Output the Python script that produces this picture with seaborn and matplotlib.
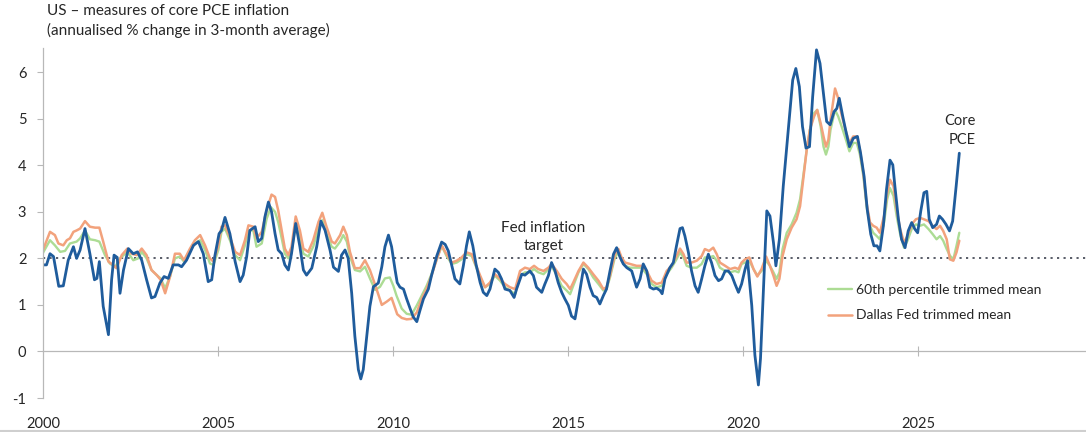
import numpy as np
import pandas as pd
import matplotlib.pyplot as plt
import seaborn as sns
from matplotlib.lines import Line2D

# ---- data (decimal year, annualised % change in 3-month average) ----
core_t = [2000.00, 2000.10, 2000.20, 2000.30, 2000.45, 2000.58, 2000.72, 2000.87, 2000.96, 2001.06,
          2001.20, 2001.34, 2001.47, 2001.54, 2001.61, 2001.72, 2001.87, 2001.96, 2002.03, 2002.12,
          2002.20, 2002.30, 2002.44, 2002.58, 2002.70, 2002.82, 2002.96, 2003.10, 2003.20, 2003.34,
          2003.46, 2003.58, 2003.72, 2003.87, 2003.96, 2004.10, 2004.30, 2004.44, 2004.58, 2004.72,
          2004.82, 2004.91, 2005.03, 2005.10, 2005.20, 2005.34, 2005.49, 2005.63, 2005.72, 2005.82,
          2005.91, 2006.06, 2006.15, 2006.25, 2006.34, 2006.44, 2006.53, 2006.63, 2006.72, 2006.82,
          2006.91, 2007.01, 2007.10, 2007.22, 2007.34, 2007.44, 2007.53, 2007.68, 2007.82, 2007.94,
          2008.06, 2008.20, 2008.30, 2008.44, 2008.53, 2008.63, 2008.72, 2008.82, 2008.91, 2009.01,
          2009.08, 2009.15, 2009.25, 2009.34, 2009.44, 2009.58, 2009.68, 2009.77, 2009.87, 2009.96,
          2010.06, 2010.12, 2010.20, 2010.30, 2010.39, 2010.49, 2010.58, 2010.68, 2010.77, 2010.87,
          2011.01, 2011.10, 2011.25, 2011.39, 2011.49, 2011.58, 2011.68, 2011.77, 2011.91, 2012.01,
          2012.10, 2012.18, 2012.28, 2012.37, 2012.49, 2012.58, 2012.68, 2012.77, 2012.91, 2013.01,
          2013.10, 2013.20, 2013.34, 2013.46, 2013.53, 2013.68, 2013.77, 2013.91, 2014.01, 2014.10,
          2014.25, 2014.34, 2014.44, 2014.53, 2014.63, 2014.72, 2014.82, 2014.91, 2015.01, 2015.10,
          2015.20, 2015.30, 2015.44, 2015.53, 2015.63, 2015.72, 2015.82, 2015.91, 2016.01, 2016.10,
          2016.20, 2016.30, 2016.39, 2016.49, 2016.58, 2016.68, 2016.82, 2016.96, 2017.06, 2017.15,
          2017.25, 2017.34, 2017.44, 2017.53, 2017.63, 2017.69, 2017.77, 2017.91, 2018.01, 2018.10,
          2018.20, 2018.27, 2018.34, 2018.44, 2018.53, 2018.63, 2018.72, 2018.82, 2018.91, 2019.01,
          2019.10, 2019.20, 2019.30, 2019.39, 2019.49, 2019.58, 2019.68, 2019.77, 2019.87, 2019.96,
          2020.06, 2020.13, 2020.25, 2020.34, 2020.44, 2020.50, 2020.58, 2020.68, 2020.77, 2020.87,
          2020.94, 2021.04, 2021.15, 2021.30, 2021.42, 2021.51, 2021.61, 2021.70, 2021.80, 2021.90,
          2021.99, 2022.10, 2022.20, 2022.30, 2022.39, 2022.49, 2022.60, 2022.68, 2022.75, 2022.85,
          2022.94, 2023.04, 2023.15, 2023.27, 2023.36, 2023.46, 2023.55, 2023.65, 2023.74, 2023.83,
          2023.91, 2024.01, 2024.10, 2024.20, 2024.28, 2024.34, 2024.44, 2024.53, 2024.63, 2024.72,
          2024.82, 2024.91, 2024.99, 2025.08, 2025.17, 2025.25, 2025.32, 2025.42, 2025.53, 2025.61,
          2025.70, 2025.80, 2025.90, 2025.99, 2026.09, 2026.18]
core_v = [1.86, 1.86, 2.10, 2.04, 1.40, 1.41, 1.96, 2.25, 2.00, 2.18,
          2.64, 2.10, 1.54, 1.57, 1.93, 0.97, 0.36, 1.54, 2.07, 2.02,
          1.25, 1.75, 2.21, 2.10, 2.14, 1.96, 1.54, 1.15, 1.18, 1.47,
          1.61, 1.57, 1.86, 1.86, 1.82, 1.96, 2.28, 2.36, 2.10, 1.50,
          1.54, 2.05, 2.53, 2.60, 2.88, 2.53, 1.93, 1.50, 1.64, 2.04,
          2.60, 2.68, 2.36, 2.43, 2.89, 3.21, 3.00, 2.53, 2.18, 2.10,
          1.86, 1.75, 2.10, 2.75, 2.25, 1.75, 1.64, 1.79, 2.25, 2.80,
          2.60, 2.18, 1.81, 1.72, 2.07, 2.18, 2.00, 1.25, 0.33, -0.39,
          -0.59, -0.39, 0.33, 0.97, 1.39, 1.47, 1.82, 2.25, 2.50, 2.25,
          1.75, 1.48, 1.38, 1.34, 1.13, 0.92, 0.74, 0.64, 0.88, 1.13,
          1.34, 1.63, 2.05, 2.35, 2.30, 2.16, 1.84, 1.56, 1.45, 1.84,
          2.27, 2.57, 2.27, 1.88, 1.48, 1.27, 1.20, 1.34, 1.77, 1.70,
          1.56, 1.34, 1.31, 1.16, 1.34, 1.66, 1.64, 1.73, 1.63, 1.38,
          1.27, 1.45, 1.63, 1.91, 1.73, 1.48, 1.27, 1.13, 0.99, 0.76,
          0.70, 1.13, 1.77, 1.66, 1.38, 1.20, 1.16, 1.02, 1.20, 1.34,
          1.73, 2.09, 2.23, 2.02, 1.88, 1.80, 1.73, 1.38, 1.56, 1.88,
          1.73, 1.38, 1.34, 1.36, 1.31, 1.24, 1.56, 1.80, 1.91, 2.27,
          2.64, 2.66, 2.48, 2.13, 1.73, 1.41, 1.27, 1.56, 1.84, 2.09,
          1.91, 1.63, 1.52, 1.56, 1.73, 1.73, 1.63, 1.45, 1.27, 1.45,
          1.77, 1.95, 0.99, -0.08, -0.72, -0.15, 1.27, 3.02, 2.91, 2.34,
          1.84, 2.41, 3.55, 4.83, 5.83, 6.08, 5.69, 4.83, 4.37, 4.40,
          5.47, 6.48, 6.19, 5.54, 4.94, 4.87, 5.15, 5.22, 5.44, 5.05,
          4.73, 4.40, 4.58, 4.62, 4.26, 3.76, 3.05, 2.52, 2.27, 2.27,
          2.16, 2.70, 3.48, 4.11, 4.01, 3.55, 2.84, 2.41, 2.23, 2.59,
          2.77, 2.63, 2.55, 3.02, 3.41, 3.44, 2.84, 2.66, 2.73, 2.91,
          2.84, 2.73, 2.59, 2.80, 3.55, 4.26]

dallas_t = [2000.00, 2000.20, 2000.34, 2000.44, 2000.58, 2000.68, 2000.77, 2000.87, 2000.96, 2001.06,
            2001.20, 2001.34, 2001.49, 2001.61, 2001.72, 2001.87, 2002.00, 2002.10, 2002.25, 2002.41,
            2002.53, 2002.68, 2002.82, 2002.96, 2003.10, 2003.25, 2003.36, 2003.49, 2003.63, 2003.77,
            2003.91, 2004.03, 2004.20, 2004.34, 2004.49, 2004.63, 2004.77, 2004.87, 2005.00, 2005.10,
            2005.20, 2005.34, 2005.49, 2005.63, 2005.77, 2005.87, 2006.01, 2006.10, 2006.25, 2006.39,
            2006.53, 2006.63, 2006.72, 2006.82, 2006.91, 2007.01, 2007.10, 2007.22, 2007.34, 2007.44,
            2007.58, 2007.72, 2007.87, 2007.98, 2008.10, 2008.25, 2008.34, 2008.49, 2008.58, 2008.68,
            2008.77, 2008.91, 2009.06, 2009.20, 2009.34, 2009.49, 2009.68, 2009.82, 2009.96, 2010.06,
            2010.12, 2010.25, 2010.39, 2010.53, 2010.68, 2010.82, 2010.96, 2011.10, 2011.25, 2011.39,
            2011.53, 2011.68, 2011.82, 2011.96, 2012.10, 2012.25, 2012.34, 2012.49, 2012.63, 2012.77,
            2012.91, 2013.06, 2013.20, 2013.34, 2013.49, 2013.63, 2013.77, 2013.91, 2014.03, 2014.15,
            2014.30, 2014.44, 2014.53, 2014.68, 2014.82, 2014.96, 2015.06, 2015.15, 2015.30, 2015.44,
            2015.58, 2015.72, 2015.87, 2016.01, 2016.10, 2016.20, 2016.34, 2016.44, 2016.53, 2016.63,
            2016.77, 2016.96, 2017.10, 2017.25, 2017.39, 2017.53, 2017.68, 2017.82, 2017.96, 2018.10,
            2018.20, 2018.30, 2018.39, 2018.53, 2018.68, 2018.82, 2018.91, 2019.03, 2019.15, 2019.25,
            2019.34, 2019.49, 2019.63, 2019.77, 2019.87, 2019.96, 2020.06, 2020.18, 2020.30, 2020.41,
            2020.53, 2020.66, 2020.77, 2020.87, 2020.96, 2021.04, 2021.13, 2021.25, 2021.39, 2021.53,
            2021.63, 2021.72, 2021.82, 2021.91, 2022.03, 2022.12, 2022.22, 2022.30, 2022.37, 2022.44,
            2022.50, 2022.63, 2022.72, 2022.82, 2022.94, 2023.04, 2023.15, 2023.25, 2023.34, 2023.44,
            2023.53, 2023.63, 2023.72, 2023.82, 2023.91, 2024.03, 2024.12, 2024.20, 2024.30, 2024.39,
            2024.49, 2024.60, 2024.70, 2024.82, 2024.94, 2025.06, 2025.17, 2025.30, 2025.42, 2025.53,
            2025.63, 2025.72, 2025.82, 2025.91, 2026.01, 2026.10, 2026.18]
dallas_v = [2.18, 2.57, 2.50, 2.32, 2.28, 2.39, 2.43, 2.57, 2.60, 2.64,
            2.80, 2.68, 2.66, 2.66, 2.36, 1.93, 1.86, 1.79, 2.07, 2.21,
            2.10, 2.07, 2.21, 2.07, 1.75, 1.64, 1.54, 1.25, 1.61, 2.10,
            2.10, 1.96, 2.21, 2.39, 2.50, 2.28, 2.00, 1.93, 2.25, 2.68,
            2.71, 2.46, 2.14, 2.07, 2.39, 2.71, 2.68, 2.43, 2.57, 3.03,
            3.37, 3.32, 3.03, 2.60, 2.21, 2.07, 2.25, 2.90, 2.60, 2.21,
            2.14, 2.39, 2.78, 2.98, 2.68, 2.36, 2.32, 2.50, 2.68, 2.50,
            2.14, 1.79, 1.79, 1.96, 1.75, 1.43, 1.00, 1.07, 1.15, 0.93,
            0.80, 0.72, 0.69, 0.70, 0.84, 1.13, 1.34, 1.63, 1.98, 2.28,
            2.09, 1.91, 1.95, 2.02, 2.13, 2.09, 1.91, 1.63, 1.38, 1.48,
            1.66, 1.56, 1.45, 1.38, 1.34, 1.73, 1.80, 1.77, 1.84, 1.77,
            1.73, 1.80, 1.88, 1.73, 1.56, 1.45, 1.34, 1.48, 1.73, 1.91,
            1.80, 1.66, 1.52, 1.34, 1.38, 1.63, 2.09, 2.20, 2.02, 1.91,
            1.88, 1.84, 1.84, 1.73, 1.52, 1.45, 1.48, 1.73, 1.84, 2.05,
            2.21, 2.09, 1.91, 1.91, 1.95, 2.05, 2.20, 2.16, 2.23, 2.09,
            1.91, 1.84, 1.77, 1.80, 1.77, 1.91, 1.98, 2.02, 1.77, 1.61,
            1.77, 2.04, 1.84, 1.63, 1.41, 1.56, 2.05, 2.41, 2.66, 2.84,
            3.12, 3.69, 4.33, 4.76, 5.05, 5.19, 4.90, 4.62, 4.40, 4.55,
            4.97, 5.65, 5.44, 5.08, 4.73, 4.48, 4.62, 4.62, 4.33, 3.83,
            3.19, 2.77, 2.70, 2.66, 2.55, 2.91, 3.41, 3.69, 3.55, 3.05,
            2.63, 2.34, 2.48, 2.73, 2.84, 2.87, 2.84, 2.80, 2.70, 2.63,
            2.70, 2.59, 2.41, 1.98, 1.95, 2.13, 2.38]

pct60_t = [2000.00, 2000.20, 2000.34, 2000.49, 2000.63, 2000.77, 2000.96, 2001.06, 2001.20, 2001.34,
           2001.49, 2001.61, 2001.77, 2001.91, 2002.06, 2002.20, 2002.41, 2002.58, 2002.72, 2002.82,
           2002.96, 2003.10, 2003.25, 2003.36, 2003.49, 2003.63, 2003.77, 2003.91, 2004.03, 2004.20,
           2004.34, 2004.49, 2004.63, 2004.77, 2004.87, 2005.01, 2005.10, 2005.20, 2005.34, 2005.49,
           2005.63, 2005.77, 2005.87, 2006.01, 2006.10, 2006.25, 2006.39, 2006.51, 2006.63, 2006.72,
           2006.82, 2006.91, 2007.01, 2007.10, 2007.22, 2007.34, 2007.44, 2007.58, 2007.72, 2007.87,
           2007.98, 2008.10, 2008.25, 2008.34, 2008.49, 2008.58, 2008.68, 2008.77, 2008.91, 2009.06,
           2009.20, 2009.34, 2009.49, 2009.63, 2009.77, 2009.91, 2010.01, 2010.10, 2010.25, 2010.39,
           2010.53, 2010.68, 2010.82, 2010.96, 2011.10, 2011.25, 2011.39, 2011.53, 2011.68, 2011.82,
           2011.96, 2012.10, 2012.25, 2012.34, 2012.49, 2012.63, 2012.77, 2012.91, 2013.06, 2013.20,
           2013.34, 2013.49, 2013.63, 2013.77, 2013.91, 2014.03, 2014.15, 2014.30, 2014.44, 2014.53,
           2014.68, 2014.82, 2014.96, 2015.06, 2015.15, 2015.30, 2015.44, 2015.58, 2015.72, 2015.87,
           2016.01, 2016.10, 2016.20, 2016.34, 2016.44, 2016.53, 2016.63, 2016.77, 2016.96, 2017.10,
           2017.25, 2017.39, 2017.53, 2017.68, 2017.82, 2017.96, 2018.10, 2018.20, 2018.30, 2018.39,
           2018.53, 2018.68, 2018.82, 2018.91, 2019.03, 2019.15, 2019.25, 2019.34, 2019.49, 2019.63,
           2019.77, 2019.87, 2019.96, 2020.06, 2020.18, 2020.30, 2020.41, 2020.53, 2020.66, 2020.77,
           2020.87, 2020.96, 2021.04, 2021.13, 2021.25, 2021.39, 2021.53, 2021.63, 2021.72, 2021.82,
           2021.91, 2022.03, 2022.12, 2022.22, 2022.30, 2022.37, 2022.44, 2022.50, 2022.63, 2022.72,
           2022.82, 2022.94, 2023.04, 2023.15, 2023.25, 2023.34, 2023.44, 2023.53, 2023.63, 2023.72,
           2023.82, 2023.91, 2024.03, 2024.12, 2024.20, 2024.30, 2024.39, 2024.49, 2024.60, 2024.70,
           2024.82, 2024.94, 2025.06, 2025.17, 2025.30, 2025.42, 2025.53, 2025.63, 2025.72, 2025.82,
           2025.91, 2026.01, 2026.10, 2026.18]
pct60_v = [2.12, 2.39, 2.28, 2.14, 2.16, 2.32, 2.36, 2.43, 2.60, 2.41,
           2.39, 2.36, 2.07, 1.89, 1.81, 2.00, 2.14, 1.96, 2.00, 2.14,
           2.00, 1.75, 1.64, 1.57, 1.36, 1.61, 2.00, 2.04, 1.93, 2.18,
           2.32, 2.39, 2.18, 1.89, 1.86, 2.18, 2.57, 2.64, 2.39, 2.07,
           1.96, 2.28, 2.60, 2.60, 2.25, 2.32, 2.85, 3.10, 3.00, 2.78,
           2.43, 2.10, 2.00, 2.14, 2.71, 2.46, 2.10, 2.04, 2.25, 2.64,
           2.82, 2.53, 2.25, 2.21, 2.36, 2.50, 2.36, 2.04, 1.75, 1.72,
           1.82, 1.57, 1.32, 1.39, 1.57, 1.59, 1.41, 1.20, 0.92, 0.81,
           0.79, 0.99, 1.20, 1.41, 1.66, 1.98, 2.27, 2.05, 1.88, 1.91,
           1.98, 2.09, 2.05, 1.88, 1.59, 1.38, 1.45, 1.63, 1.52, 1.38,
           1.31, 1.23, 1.63, 1.70, 1.70, 1.77, 1.70, 1.66, 1.77, 1.84,
           1.63, 1.41, 1.31, 1.23, 1.41, 1.70, 1.88, 1.77, 1.59, 1.45,
           1.31, 1.34, 1.59, 2.02, 2.13, 1.95, 1.84, 1.80, 1.80, 1.80,
           1.66, 1.45, 1.38, 1.41, 1.66, 1.80, 1.98, 2.13, 2.02, 1.84,
           1.80, 1.80, 1.88, 2.02, 2.02, 2.05, 1.95, 1.80, 1.73, 1.70,
           1.73, 1.70, 1.88, 1.91, 1.95, 1.77, 1.63, 1.73, 1.95, 1.84,
           1.70, 1.56, 1.70, 2.20, 2.55, 2.73, 2.98, 3.27, 3.76, 4.33,
           4.76, 5.12, 5.19, 4.83, 4.40, 4.23, 4.40, 4.76, 5.19, 5.05,
           4.83, 4.55, 4.30, 4.48, 4.48, 4.23, 3.76, 3.12, 2.70, 2.55,
           2.48, 2.41, 2.77, 3.27, 3.51, 3.34, 2.91, 2.52, 2.23, 2.38,
           2.63, 2.73, 2.70, 2.73, 2.63, 2.52, 2.41, 2.48, 2.38, 2.20,
           2.06, 1.98, 2.27, 2.55]

year_ticks = [2000, 2005, 2010, 2015, 2020, 2025]
y_ticks = [-1, 0, 1, 2, 3, 4, 5, 6]
fed_target = 2

BLUE = '#1f5c9c'
ORANGE = '#f2a27c'
GREEN = '#acdc94'
GRAY = '#b8b8b8'
TEXT = '#262626'

sns.set_theme(style='white')
plt.rcParams['font.family'] = ['Lato', 'DejaVu Sans']
plt.rcParams['axes.unicode_minus'] = False

core = pd.DataFrame({'date': core_t, 'value': core_v})
dallas = pd.DataFrame({'date': dallas_t, 'value': dallas_v})
pct60 = pd.DataFrame({'date': pct60_t, 'value': pct60_v})

fig = plt.figure(figsize=(10.86, 4.32), dpi=100)
ax = fig.add_axes([43 / 1086, 34 / 432, 1 - 43 / 1086, 350 / 432])

ax.axhline(fed_target, color='#4b4f5c', lw=1.3, ls=(0, (1.2, 2.4)), zorder=1)

sns.lineplot(data=pct60, x='date', y='value', ax=ax, color=GREEN, lw=1.7,
             estimator=None, sort=False, label='60th percentile trimmed mean')
sns.lineplot(data=dallas, x='date', y='value', ax=ax, color=ORANGE, lw=1.8,
             estimator=None, sort=False, label='Dallas Fed trimmed mean')
sns.lineplot(data=core, x='date', y='value', ax=ax, color=BLUE, lw=2.0,
             estimator=None, sort=False, legend=False)

ymin, ymax = -1, 6.52
ax.set_xlim(2000, 2029.8)
ax.set_ylim(ymin, ymax)
ax.set_xlabel('')
ax.set_ylabel('')

ax.set_yticks(y_ticks)
ax.set_xticks(year_ticks)
ax.set_xticklabels([str(y) for y in year_ticks])
ax.tick_params(axis='y', left=True, length=4, width=0.8, color=GRAY,
               labelsize=10.5, labelcolor=TEXT, pad=8)
ax.tick_params(axis='x', bottom=False, labelsize=10.5, labelcolor=TEXT, pad=8)
for s in ['top', 'right', 'bottom']:
    ax.spines[s].set_visible(False)
ax.spines['left'].set_color(GRAY)
ax.spines['left'].set_linewidth(0.9)

# zero line with year tick marks
sec = ax.secondary_xaxis((0 - ymin) / (ymax - ymin))
sec.set_xticks(year_ticks[1:])
sec.tick_params(axis='x', direction='inout', length=7, width=0.8, color=GRAY,
                labelbottom=False, labeltop=False)
for s in ['top', 'bottom']:
    sec.spines[s].set_color(GRAY)
    sec.spines[s].set_linewidth(0.9)

ax.text(2014.3, 2.12, 'Fed inflation\ntarget', ha='center', va='bottom',
        fontsize=11, color=TEXT, linespacing=1.35)
ax.text(2026.65, 4.4, 'Core\nPCE', ha='right', va='bottom',
        fontsize=10.5, color=TEXT, linespacing=1.45)

ax.legend(loc='upper left', bbox_to_anchor=(0.753, 0.325), frameon=False,
          fontsize=10, handlelength=1.7, handletextpad=0.3, labelspacing=0.95,
          borderaxespad=0, borderpad=0)

fig.text(47 / 1086, 1 - 4 / 432,
         'US \u2013 measures of core PCE inflation\n(annualised % change in 3-month average)',
         ha='left', va='top', fontsize=11, color=TEXT, linespacing=1.4)

fig.add_artist(Line2D([0, 1], [1.5 / 432, 1.5 / 432], transform=fig.transFigure,
                      color='#cfcfcf', lw=1.5))

fig.savefig('out.png', dpi=100)
